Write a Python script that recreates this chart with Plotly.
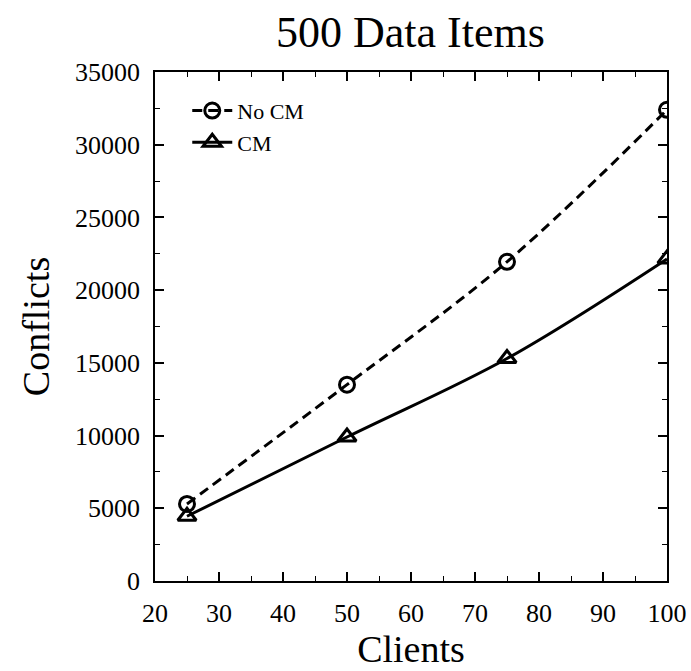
import plotly.graph_objects as go

clients = [25, 50, 75, 100]
no_cm = [5300, 13500, 21950, 32400]
cm = [4450, 9900, 15300, 22150]

FONT = "Liberation Serif"

fig = go.Figure()
fig.add_trace(go.Scatter(
    x=clients, y=no_cm, name="No CM", mode="lines+markers",
    line=dict(color="black", width=3, dash="10px,6px", shape="spline"),
    marker=dict(symbol="circle-open", size=15, color="black", line=dict(width=3)),
))
fig.add_trace(go.Scatter(
    x=clients, y=cm, name="CM", mode="lines+markers",
    line=dict(color="black", width=3, shape="spline"),
    marker=dict(symbol="triangle-up-open", size=16, color="black", line=dict(width=3)),
))

axis_common = dict(
    showline=True, linecolor="black", linewidth=1.5, mirror="ticks",
    ticks="inside", ticklen=9, tickwidth=1.5, tickcolor="black",
    showgrid=False, zeroline=False, tickformat="d", automargin=False,
    tickfont=dict(family=FONT, size=26, color="black"),
)
fig.update_xaxes(
    range=[20, 100], dtick=10, tick0=20,
    minor=dict(ticks="inside", ticklen=5, tickwidth=1.2, dtick=5, tickcolor="black"),
    title=dict(text="Clients", font=dict(family=FONT, size=38, color="black"), standoff=8),
    ticklabelstandoff=8,
    **axis_common,
)
fig.update_yaxes(
    range=[0, 35000], dtick=5000, tick0=0,
    minor=dict(ticks="inside", ticklen=5, tickwidth=1.2, dtick=2500, tickcolor="black"),
    title=dict(text="Conflicts", font=dict(family=FONT, size=38, color="black"), standoff=14),
    ticklabelstandoff=8,
    **axis_common,
)
fig.update_layout(
    width=691, height=671,
    margin=dict(l=155, r=24, t=72, b=90),
    paper_bgcolor="white", plot_bgcolor="white",
    title=dict(text="500 Data Items", x=0.594, xanchor="center", y=0.976, yanchor="top",
               font=dict(family=FONT, size=44, color="black")),
    legend=dict(x=0.063, y=0.965, xanchor="left", yanchor="top",
                bgcolor="rgba(0,0,0,0)", font=dict(family=FONT, size=22, color="black"),
                tracegroupgap=0, itemwidth=40),
    showlegend=True,
)
fig.write_html("out.html")
